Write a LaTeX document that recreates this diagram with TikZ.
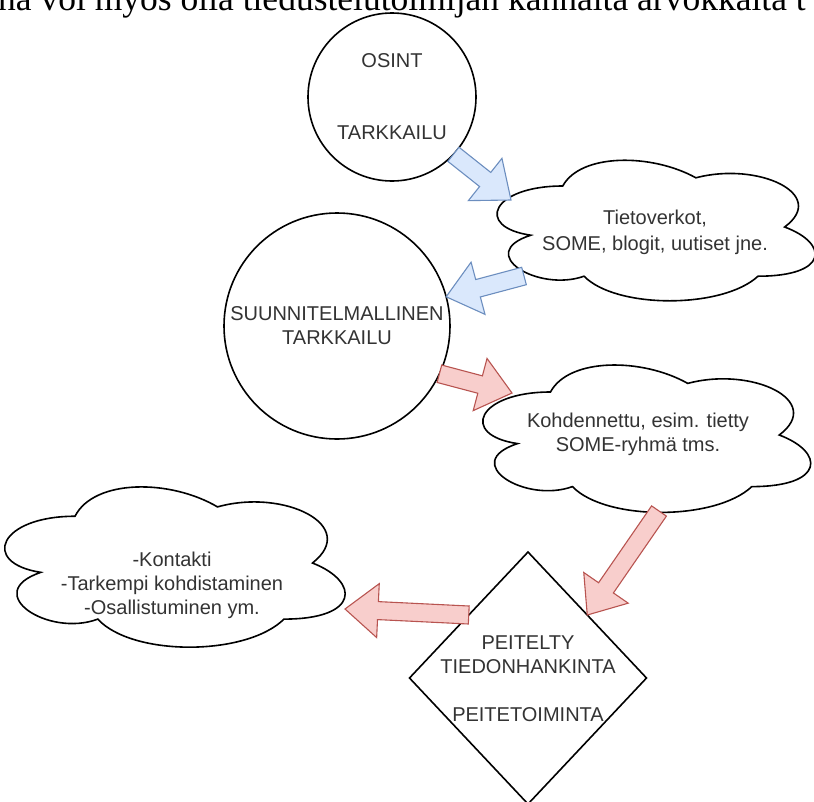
\documentclass[tikz,border=0pt]{standalone}
\usepackage{fontspec}
\setmainfont{Liberation Sans}
\newfontfamily\serifbody{Liberation Serif}
\usetikzlibrary{calc,shapes.geometric}

\definecolor{blueFill}{HTML}{DAE8FC}
\definecolor{blueLine}{HTML}{6C8EBF}
\definecolor{redFill}{HTML}{F8CECC}
\definecolor{redLine}{HTML}{B85450}
\definecolor{labelGray}{HTML}{333333}

% flat block arrow: shaft half width 9pt, head half width 27pt, head length 33pt
\newcommand\blockarrow[3]{%
  \coordinate (ba-b) at ($(#3)!33pt!(#2)$);
  \draw[#1] ($(#2)!9pt!90:(#3)$) -- ($(ba-b)!9pt!90:(#3)$)
    -- ($(ba-b)!27pt!90:(#3)$) -- (#3) -- ($(ba-b)!27pt!-90:(#3)$)
    -- ($(ba-b)!9pt!-90:(#3)$) -- ($(#2)!9pt!-90:(#3)$) -- cycle;}

% puffy cloud outline filling the box of an (invisible) node
\newcommand\cloudoutline[3]{%
  \draw[cloudline, shift={(#1.north west)}, x={(#2pt,0pt)}, y={(0pt,-#3pt)}]
    (0.25,0.25) .. controls (0.05,0.25) and (0,0.5) .. (0.16,0.55)
    .. controls (0,0.66) and (0.18,0.9) .. (0.31,0.8)
    .. controls (0.4,1) and (0.7,1) .. (0.8,0.8)
    .. controls (1,0.8) and (1,0.6) .. (0.875,0.5)
    .. controls (1,0.3) and (0.8,0.1) .. (0.625,0.2)
    .. controls (0.5,0.05) and (0.3,0.05) .. (0.25,0.25) -- cycle;}

\tikzset{
  lbl/.style={align=center, inner sep=0pt, text=labelGray,
    font=\fontsize{20pt}{24pt}\selectfont},
  circ/.style={circle, draw=black, line width=1.6pt, fill=white,
    inner sep=0pt, outer sep=0pt, lbl},
  cloudbox/.style={rectangle, draw=none, inner sep=0pt, outer sep=0pt},
  cloudline/.style={draw=black, line width=1.6pt, fill=white},
  bluearrow/.style={draw=blueLine, fill=blueFill, line width=1.1pt, line join=miter},
  redarrow/.style={draw=redLine, fill=redFill, line width=1.1pt, line join=miter},
}

\begin{document}
\begin{tikzpicture}[x=1pt, y=-1pt]
\useasboundingbox (0,0) rectangle (814,801);

% running text of the page, cut by the top edge
\node[anchor=base west, inner sep=0pt,
  font=\serifbody\fontsize{35.5pt}{40pt}\selectfont] (bodyline) at (-2,10)
  {na voi myös olla tiedustelutoimijan kannalta arvokkaita t};

% circles
\node[circ, minimum size=168pt] (osint) at (392,97) {OSINT\\[48pt]TARKKAILU};
\node[circ, minimum size=226pt] (suunn) at (337,326) {SUUNNITELMALLINEN\\TARKKAILU};

% clouds
\node[cloudbox, minimum width=355pt, minimum height=164pt] (netcloud) at (651.5,227) {};
\cloudoutline{netcloud}{355}{164}
\node[lbl, font=\fontsize{20pt}{26pt}\selectfont] (nettext) at (655,232)
  {Tietoverkot,\\SOME, blogit, uutiset jne.};

\node[cloudbox, minimum width=366pt, minimum height=172pt] (targetcloud) at (642,435) {};
\cloudoutline{targetcloud}{366}{172}
\node[lbl] (targettext) at (638,434.5) {Kohdennettu, esim. tietty\\SOME-ryhmä tms.};

\node[cloudbox, minimum width=380pt, minimum height=187pt] (contactcloud) at (170,563) {};
\cloudoutline{contactcloud}{380}{187}
\node[lbl] (contacttext) at (172,585.5)
  {-Kontakti\\-Tarkempi kohdistaminen\\-Osallistuminen ym.};

% diamond
\node[diamond, draw=black, line width=1.6pt, fill=white, minimum width=237pt,
  minimum height=252pt, inner sep=0pt, outer sep=0pt] (covert) at (528,678) {};
\node[lbl] (coverttext) at (528,679)
  {PEITELTY\\TIEDONHANKINTA\\[24pt]PEITETOIMINTA};

% arrow ends on the cloud outlines
\coordinate (tipA) at (511,200);
\coordinate (fromA) at (524,276);
\coordinate (tipB) at (512,393);
\coordinate (fromB) at (659,511);
\coordinate (tipC) at (345,609);

% block arrows
\blockarrow{bluearrow}{osint.-43}{tipA}
\blockarrow{bluearrow}{fromA}{suunn.15}
\blockarrow{redarrow}{suunn.-25}{tipB}
\blockarrow{redarrow}{fromB}{covert.north east}
\blockarrow{redarrow}{covert.north west}{tipC}
\end{tikzpicture}
\end{document}
